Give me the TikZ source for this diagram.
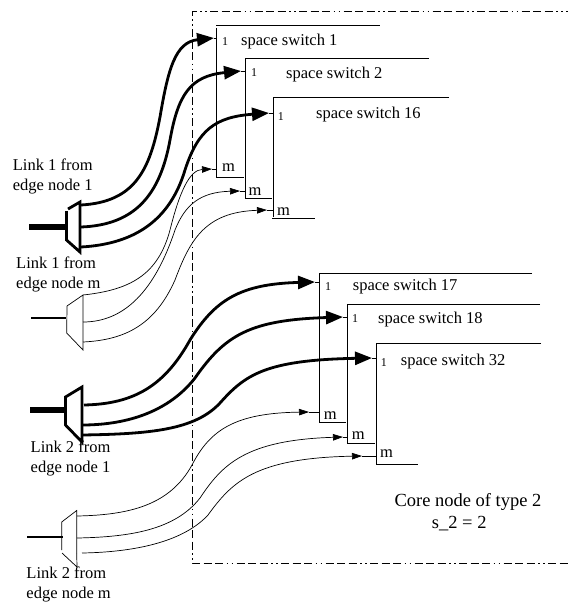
\documentclass[tikz,border=0pt]{standalone}
\usepackage{fontspec}
\setmainfont{Liberation Serif}
\usetikzlibrary{arrows.meta}
\tikzset{
  x=1pt,y=-1pt,
  frameline/.style={line width=0.8pt,dash pattern=on 8pt off 3.5pt on 8pt off 3.5pt on 8pt off 3.5pt on 1.5pt off 3.5pt on 1.5pt off 3.5pt,dash phase=26.5pt},
  swline/.style={line width=0.8pt},
  tick/.style={line width=0.8pt},
  heavy/.style={line width=2.8pt,-{Triangle[length=17pt,width=13pt]}},
  light/.style={line width=0.7pt,-{Triangle[length=10pt,width=6.5pt]}},
  lbl/.style={inner sep=0pt,anchor=base west,font=\fontsize{16.5}{18}\selectfont},
  big/.style={inner sep=0pt,anchor=base west,font=\fontsize{18.5}{20}\selectfont},
  one/.style={inner sep=0pt,anchor=base west,font=\fontsize{12}{14}\selectfont},
}
\begin{document}
\begin{tikzpicture}
\useasboundingbox (0,0) rectangle (568,603);
% frame
\draw[frameline] (192,11) -- (568,11);
\draw[frameline] (192,11) -- (192,563) -- (568,563);
% switches
\draw[swline] (216,25.5) -- (380,25.5);
\draw[swline] (216.5,28) -- (216.5,177) -- (244,177);
\draw[swline] (272,218.5) -- (315,218.5);
\draw[swline] (429,58) -- (245,58) -- (245,198) -- (272,198);
\draw[swline] (449,97) -- (273,97) -- (273,217);
\draw[swline] (532,273.7) -- (319,273.7) -- (319,422.7) -- (346,422.7);
\draw[swline] (540,304) -- (347,304) -- (347,443.7) -- (375,443.7);
\draw[swline] (541,343.7) -- (376.5,343.7) -- (376.5,464) -- (417.5,464);
% port coordinates
\coordinate (a1) at (214,38);  \coordinate (a1e) at (217,38);
\coordinate (a2) at (241,71);  \coordinate (a2e) at (245,71);
\coordinate (a3) at (269,113); \coordinate (a3e) at (273,113);
\coordinate (b1) at (212,169); \coordinate (b1e) at (217,169);
\coordinate (b2) at (240,191); \coordinate (b2e) at (245,191);
\coordinate (b3) at (267,210); \coordinate (b3e) at (273,210);
\coordinate (c1) at (315,282); \coordinate (c1e) at (319,282);
\coordinate (c2) at (343,317); \coordinate (c2e) at (347,317);
\coordinate (c3) at (372,358); \coordinate (c3e) at (376,358);
\coordinate (d1) at (309,412); \coordinate (d1e) at (319,412);
\coordinate (d2) at (343,437); \coordinate (d2e) at (347,437);
\coordinate (d3) at (362,456); \coordinate (d3e) at (376,456);
\foreach \n in {a1,a2,a3,b1,b2,b3,c1,c2,c3,d1,d2,d3}{\draw[tick] (\n) -- (\n e);}
% mux 1
\draw[line width=2.8pt] (68,209) -- (80,202) -- (80,252) -- (66.5,240) -- (66.5,211);
\coordinate (m1i) at (66,227); \coordinate (m1s) at (29,227);
\draw[line width=5.5pt] (m1s) -- (m1i);
\coordinate (m1a) at (81,205); \coordinate (m1b) at (81,227); \coordinate (m1c) at (81,247);
\draw[heavy] (m1a) .. controls (135,202) and (150,170) .. (160,117) .. controls (168,70) and (175,42) .. (a1);
\draw[heavy] (m1b) .. controls (135,225) and (160,195) .. (170,140) .. controls (178,95) and (190,76) .. (a2);
\draw[heavy] (m1c) .. controls (135,244) and (170,220) .. (185,170) .. controls (198,130) and (215,117) .. (a3);
% mux 2
\draw[line width=0.7pt] (67,306) -- (83,295) -- (83,350) -- (66.7,333) -- cycle;
\coordinate (m2i) at (66,318); \coordinate (m2s) at (31,318);
\draw[line width=2pt] (m2s) -- (m2i);
\coordinate (m2a) at (83,295); \coordinate (m2b) at (83,322); \coordinate (m2c) at (83,342);
\draw[light] (m2a) .. controls (130,290) and (158,275) .. (170,230) .. controls (180,190) and (190,170) .. (b1);
\draw[light] (m2b) .. controls (125,322) and (155,290) .. (175,230) .. controls (185,205) and (200,192) .. (b2);
\draw[light] (m2c) .. controls (125,340) and (155,325) .. (175,280) .. controls (190,240) and (205,212) .. (b3);
% mux 3
\draw[line width=2.8pt] (65.5,397) -- (82,387) -- (82,442) -- (65.5,425) -- cycle;
\coordinate (m3i) at (65,410); \coordinate (m3s) at (30,410);
\draw[line width=6pt] (m3s) -- (m3i);
\coordinate (m3a) at (84,405); \coordinate (m3b) at (82,425); \coordinate (m3c) at (82,435);
\draw[heavy] (m3a) .. controls (135,404) and (165,385) .. (190,340) .. controls (215,300) and (240,284) .. (c1);
\draw[heavy] (m3b) .. controls (130,425) and (170,410) .. (195,378) .. controls (225,335) and (250,320) .. (c2);
\draw[heavy] (m3c) .. controls (150,434) and (195,430) .. (220,403) .. controls (245,375) and (265,360) .. (c3);
% mux 4
\draw[line width=0.7pt] (76.7,553) -- (76.7,510.5) -- (61.7,522) -- (61.7,550);
\draw[line width=0.7pt] (62,553) -- (77,567) -- (76.7,553);
\coordinate (m4i) at (63,537); \coordinate (m4s) at (27,537);
\draw[line width=2.5pt] (m4s) -- (m4i);
\coordinate (m4a) at (77,516); \coordinate (m4b) at (77,538); \coordinate (m4c) at (82,553);
\draw[light] (m4a) .. controls (130,515) and (170,505) .. (192,465) .. controls (210,430) and (235,413) .. (d1);
\draw[light] (m4b) .. controls (130,537) and (175,530) .. (200,498) .. controls (222,465) and (245,440) .. (d2);
\draw[light] (m4c) .. controls (140,552) and (185,540) .. (208,515) .. controls (232,482) and (255,458) .. (d3);
% switch labels
\node[lbl] (s1) at (241,45) {space switch 1};
\node[lbl] (s2) at (286,78) {space switch 2};
\node[lbl] (s16) at (316,118.7) {space switch 16};
\node[lbl] (s17) at (352.7,290.7) {space switch 17};
\node[lbl] (s18) at (378,323) {space switch 18};
\node[lbl] (s32) at (400.7,365.7) {space switch 32};
\node[one] (o1) at (222,45.3) {1};
\node[one] (o2) at (251,76) {1};
\node[one] (o3) at (277.7,120) {1};
\node[one] (o4) at (325,290.7) {1};
\node[one] (o5) at (352,322) {1};
\node[one] (o6) at (380.7,366.7) {1};
\node[lbl] (k1) at (222,171.7) {m};
\node[lbl] (k2) at (248.3,195.7) {m};
\node[lbl] (k3) at (277,215) {m};
\node[lbl] (k4) at (323.7,419) {m};
\node[lbl] (k5) at (351.7,439.3) {m};
\node[lbl] (k6) at (380,457.7) {m};
% link labels
\node[lbl] (l1a) at (12.7,170.7) {Link 1 from};
\node[lbl] (l1b) at (12.7,190.7) {edge node 1};
\node[lbl] (l2a) at (16,268) {Link 1 from};
\node[lbl] (l2b) at (16,288) {edge node m};
\node[lbl] (l3a) at (30.5,452.7) {Link 2 from};
\node[lbl] (l3b) at (30.5,472.7) {edge node 1};
\node[lbl] (l4a) at (26.3,578.7) {Link 2 from};
\node[lbl] (l4b) at (26.3,598.5) {edge node m};
\node[big] (c1t) at (394.3,506) {Core node of type 2};
\node[big] (c2t) at (431.7,528.7) {s\_2 = 2};
\end{tikzpicture}
\end{document}
